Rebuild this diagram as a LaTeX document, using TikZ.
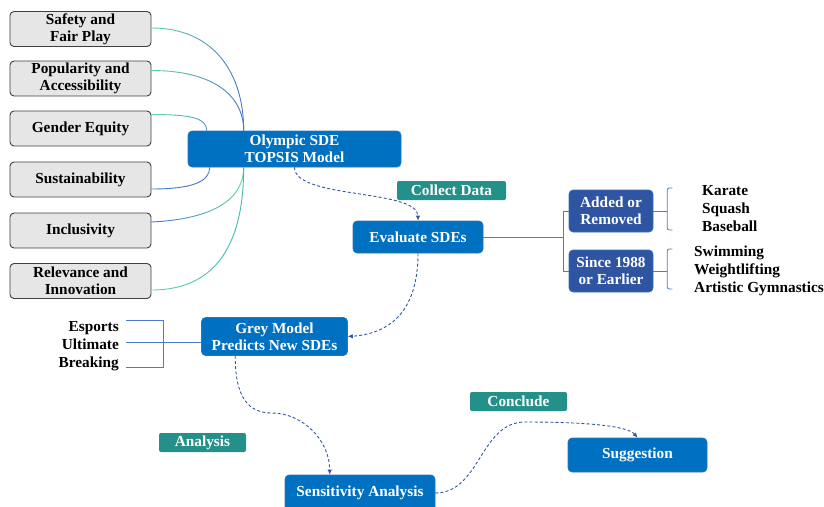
\documentclass[tikz,border=0pt]{standalone}
\usepackage{fontspec}
\setmainfont{Liberation Serif}
\usetikzlibrary{arrows.meta,calc}
\definecolor{gfill}{HTML}{E7E6E6}
\definecolor{gdraw}{HTML}{3F3F3F}
\definecolor{bfill}{HTML}{0070C0}
\definecolor{bdraw}{HTML}{2E75B6}
\definecolor{dbfill}{HTML}{2F55A2}
\definecolor{tfill}{HTML}{23918A}
\definecolor{dashc}{HTML}{3355A0}
\definecolor{brk}{HTML}{4A7BD0}
\definecolor{cgreen}{HTML}{5FD3A3}
\definecolor{cblue}{HTML}{4A78D0}
\definecolor{cteal}{HTML}{45B8B0}
\newcommand{\gradcurve}[3]{%
  \foreach \k in {0,...,7}{%
    \pgfmathtruncatemacro\pc{100-\k*100/7}%
    \pgfmathsetmacro\xl{\k==0 ? 140 : 151+\k*12}%
    \pgfmathsetmacro\xr{\k==7 ? 300 : 163.3+\k*12}%
    \begin{scope}
      \clip (\xl,0) rectangle (\xr,506);
      \draw[line width=0.9pt, color=#1!\pc!#2] #3;
    \end{scope}}}
\begin{document}
\begin{tikzpicture}[x=1pt,y=-1pt,
  every node/.style={font=\fontsize{15.3}{17}\selectfont\bfseries},
  crit/.style={draw=gdraw, fill=gfill, line width=0.9pt, rounded corners=4pt,
    minimum width=141pt, minimum height=35pt, inner sep=0pt, align=center},
  bbox/.style={draw=bdraw, fill=bfill, line width=0.6pt, rounded corners=4pt,
    text=white, inner sep=0pt, align=center},
  dbox/.style={draw=bdraw, fill=dbfill, line width=0.6pt, rounded corners=4pt,
    text=white, minimum width=84pt, minimum height=42pt, inner sep=0pt, align=center},
  tag/.style={fill=tfill, rounded corners=2pt, text=white, minimum height=19pt, inner sep=0pt},
  lst/.style={inner sep=0pt, font=\fontsize{15.3}{18}\selectfont\bfseries},
  flow/.style={draw=dashc, line width=0.9pt, dash pattern=on 3pt off 2.2pt,
    -{Latex[length=5pt,width=4.5pt]}},
  brace/.style={draw=brk, line width=0.8pt},
]
\useasboundingbox (0,0) rectangle (824,506);

% criteria boxes
\node[crit] (c1) at (80.5,29) {Safety and\\Fair Play};
\node[crit] (c2) at (80.5,78.5) {Popularity and\\Accessibility};
\node[crit] (c3) at (80.5,128.5) {Gender Equity};
\node[crit] (c4) at (80.5,179.5) {Sustainability};
\node[crit] (c5) at (80.5,230.5) {Inclusivity};
\node[crit] (c6) at (80.5,281) {Relevance and\\Innovation};

% main boxes
\node[bbox, minimum width=213pt, minimum height=36pt] (T) at (294.5,149) {Olympic SDE\\TOPSIS Model};
\node[tag, minimum width=109pt] (cd) at (451.5,190.5) {Collect Data};
\node[bbox, minimum width=130pt, minimum height=32pt] (E) at (418,237) {Evaluate SDEs};
\node[dbox] (A) at (611,211) {Added or\\Removed};
\node[dbox] (B) at (611,271) {Since 1988\\or Earlier};
\node[lst, anchor=west, align=left] (L1) at (702,209) {Karate\\Squash\\Baseball};
\node[lst, anchor=west, align=left] (L2) at (694,271) {Swimming\\Weightlifting\\Artistic Gymnastics};
\node[bbox, minimum width=146pt, minimum height=38pt] (G) at (274.5,336.5) {Grey Model\\Predicts New SDEs};
\node[lst, anchor=east, align=right] (L3) at (119,346) {Esports\\Ultimate\\Breaking};
\node[tag, minimum width=87pt] (an) at (202.5,442.5) {Analysis};
\node[bbox, minimum width=150pt, minimum height=36pt] (S) at (360,493) {Sensitivity Analysis};
\node[tag, minimum width=97pt] (co) at (518.5,401.5) {Conclude};
\node[bbox, minimum width=139pt, minimum height=34pt] (Sg) at (637.5,455) {Suggestion};

% curves from criteria to TOPSIS
\coordinate (tn) at ($(T.north west)+(56,0)$);
\coordinate (tg) at ($(T.north west)+(19,0)$);
\coordinate (ts) at ($(T.south west)+(22,0)$);
\coordinate (tb) at ($(T.south west)+(56,0)$);
\gradcurve{cgreen}{cblue}{($(c1.east)+(0,-1)$) .. controls +(62,0) and +(0,-58) .. (tn)}
\gradcurve{cgreen}{cblue}{($(c2.east)+(0,-8)$) .. controls +(62,0) and +(0,-35) .. (tn)}
\gradcurve{cgreen}{cblue}{($(c3.east)+(0,-14)$) .. controls +(42,0) and +(0,-12) .. (tg)}
\gradcurve{cblue}{cblue}{($(c4.east)+(0,9.5)$) .. controls +(42,0) and +(0,14) .. (ts)}
\gradcurve{cblue}{cgreen}{($(c5.east)+(0,-8.5)$) .. controls +(62,-3) and +(0,32) .. (tb)}
\gradcurve{cgreen}{cteal}{($(c6.east)+(0,9)$) .. controls +(68,0) and +(0,72) .. (tb)}

% bracket from Evaluate
\coordinate (j1) at ($(E.east)+(80,0)$);
\draw[brace] (E.east) -- (j1);
\draw[brace] (A.west) -| (j1) |- (B.west);
% right brackets
\draw[brace] (A.east) -- ++(14,0);
\draw[brace, rounded corners=2pt] ($(A.east)+(19,-23)$) -- ++(-5,0) -- ++(0,42) -- ++(5,0);
\draw[brace] (B.east) -- ++(14,0);
\draw[brace, rounded corners=2pt] ($(B.east)+(19,-22)$) -- ++(-5,0) -- ++(0,40) -- ++(5,0);
% left bracket
\coordinate (j2) at ($(G.west)+(-38,6)$);
\draw[brace, line width=1.2pt] ($(G.west)+(0,6)$) -- (j2);
\draw[brace] ($(j2)+(-37,-22)$) -- ++(37,0) -- ++(0,47) -- ++(-37,0);
\draw[brace] (j2) -- ++(-37,0);

% dashed flow
\draw[flow] (T.south) .. controls +(0,32) and +(0,-32) .. (E.north);
\draw[flow] (E.south) .. controls +(0,55) and +(45,-3) .. (G.east);
\coordinate (m1) at (272,413);
\draw[flow] ($(G.south west)+(34,0)$) .. controls +(0,40) and +(-25,0) .. (m1)
  .. controls +(30,0) and +(0,-35) .. ($(S.north west)+(45,0)$);
\coordinate (m2) at (525,422);
\draw[flow] (S.east) .. controls +(45,0) and +(-45,0) .. (m2)
  .. controls +(60,0) and +(-10,-12) .. (Sg.north);
\end{tikzpicture}
\end{document}
